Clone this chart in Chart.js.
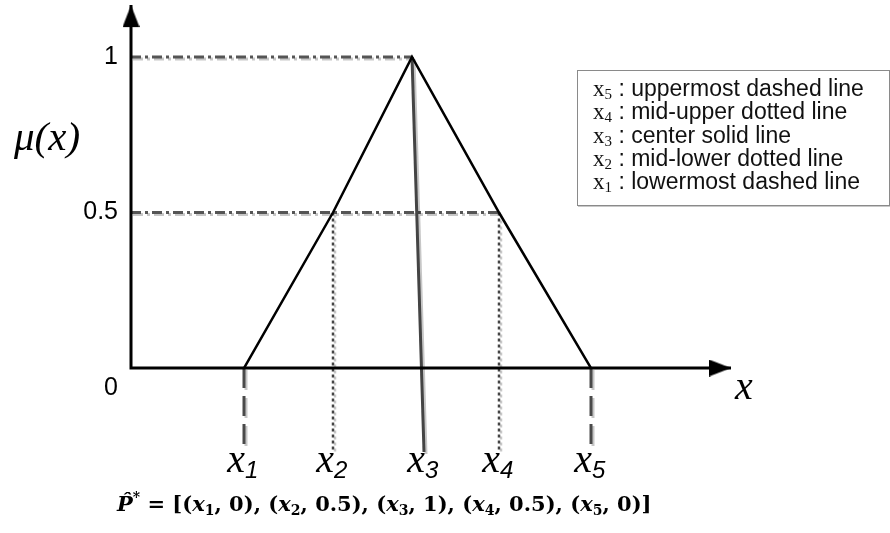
<!DOCTYPE html>
<html lang="en">
<head>
  <meta charset="UTF-8" />
  <title>Triangular membership function</title>
  <script src="https://cdn.jsdelivr.net/npm/chart.js"></script>
  <style>
    body { margin: 0; background: #fff; }
    #wrap { position: relative; width: 890px; height: 533px; }
    #legend {
      position: absolute; left: 577px; top: 70px; width: 296px;
      border: 1px solid #8a8a8a; box-shadow: 1px 1px 0 #c8c8c8;
      padding: 6px 0 12px 15px;
      font: 23px "Liberation Sans", Arial, sans-serif; line-height: 23.3px; color: #111;
    }
    #legend .v { font-family: "Liberation Serif", "Times New Roman", serif; font-size: 23px; }
    #legend sub { font-size: 15px; vertical-align: -3px; line-height: 0; }
    #formula {
      position: absolute; left: 117px; top: 491px; white-space: nowrap;
      font: bold 21px "DejaVu Serif", serif; color: #000;
    }
    #formula i { font-style: italic; }
    #formula sub { font-size: 14px; vertical-align: -4px; line-height: 0; }
    #formula sup { font-size: 14px; vertical-align: 9px; line-height: 0; }
  </style>
</head>
<body>
<div id="wrap">
  <canvas id="chart"></canvas>
  <div id="legend"></div>
  <div id="formula"></div>
</div>

<script>
// breakpoints of the triangular membership function: x1..x5 and mu(x)
const xPoints = [1.13, 2.02, 2.81, 3.68, 4.60];
const muValues = [0, 0.5, 1, 0.5, 0];
// the centre line leans a little: foot of the x3 line
const x3Foot = 2.93;
// how far the drop lines go below the x axis
const dropBottom = -0.27;
// axis ends (arrow tips)
const xAxisEnd = 6.0;
const yAxisEnd = 1.167;

const yTicks = [1, 0.5, 0];
const yTickLabels = ['1', '0.5', '0'];
const xNames = ['1', '2', '3', '4', '5'];

const legendKeys = ['5', '4', '3', '2', '1'];
const legendTexts = [
  'uppermost dashed line',
  'mid-upper dotted line',
  'center solid line',
  'mid-lower dotted line',
  'lowermost dashed line'
];

// legend box
document.getElementById('legend').innerHTML = legendKeys.map((k, i) =>
  `<div><span class="v">x<sub>${k}</sub></span> : ${legendTexts[i]}</div>`).join('');

// formula under the plot
const pairs = xNames.map((n, i) => `(<i>x</i><sub>${n}</sub>, ${muValues[i]})`).join(', ');
document.getElementById('formula').innerHTML =
  `<i>P&#770;</i><sup>*</sup> = [${pairs}]`;

// arrow head used as point style on the axis ends (tip sits at the centre)
function makeArrow() {
  const c = document.createElement('canvas');
  c.width = 17; c.height = 48;
  const g = c.getContext('2d');
  g.fillStyle = '#000';
  g.beginPath();
  g.moveTo(8.5, 24);
  g.lineTo(17, 46);
  g.lineTo(0, 46);
  g.closePath();
  g.fill();
  return c;
}
const arrow = makeArrow();

const pt = (x, y) => ({ x, y });
const [x1, x2, x3, x4, x5] = xPoints;

const guideGrey = '#555';
const datasets = [
  {
    label: 'axes',
    data: [pt(0, yAxisEnd), pt(0, 0), pt(xAxisEnd, 0)],
    borderColor: '#000', borderWidth: 3, borderJoinStyle: 'miter',
    pointStyle: arrow, pointRadius: [10, 0, 10], pointRotation: [0, 0, 90],
    order: 0
  },
  {
    label: 'membership',
    data: xPoints.map((x, i) => pt(x, muValues[i])),
    borderColor: '#000', borderWidth: 2.5, pointRadius: 0, order: 1
  },
  {
    label: 'level 1',
    data: [pt(0, 1), pt(x3, 1)],
    borderColor: guideGrey, borderWidth: 3, borderDash: [10, 4, 3, 4],
    pointRadius: 0, shadow: true, order: 3
  },
  {
    label: 'level 0.5',
    data: [pt(0, 0.5), pt(x4, 0.5)],
    borderColor: guideGrey, borderWidth: 3, borderDash: [10, 4, 3, 4],
    pointRadius: 0, shadow: true, order: 3
  },
  {
    label: 'x1',
    data: [pt(x1, 0), pt(x1, dropBottom)],
    borderColor: '#4a4a4a', borderWidth: 3, borderDash: [20, 8],
    pointRadius: 0, shadow: true, order: 2
  },
  {
    label: 'x2',
    data: [pt(x2, 0.5), pt(x2, dropBottom)],
    borderColor: '#444', borderWidth: 2.5, borderDash: [3, 3],
    pointRadius: 0, shadow: true, order: 2
  },
  {
    label: 'x3',
    data: [pt(x3, 1), pt(x3Foot, dropBottom)],
    borderColor: '#444', borderWidth: 3,
    pointRadius: 0, shadow: true, order: 2
  },
  {
    label: 'x4',
    data: [pt(x4, 0.5), pt(x4, dropBottom)],
    borderColor: '#444', borderWidth: 2.5, borderDash: [3, 3],
    pointRadius: 0, shadow: true, order: 2
  },
  {
    label: 'x5',
    data: [pt(x5, 0), pt(x5, dropBottom)],
    borderColor: '#4a4a4a', borderWidth: 3, borderDash: [20, 8],
    pointRadius: 0, shadow: true, order: 2
  }
];

// soft grey offset shadow on the guide lines
const shadowPlugin = {
  id: 'lineShadow',
  beforeDatasetDraw(chart, args) {
    if (!chart.data.datasets[args.index].shadow) return;
    const ctx = chart.ctx;
    ctx.save();
    ctx.shadowColor = 'rgba(0,0,0,0.22)';
    ctx.shadowOffsetX = 2;
    ctx.shadowOffsetY = 2;
  },
  afterDatasetDraw(chart, args) {
    if (chart.data.datasets[args.index].shadow) chart.ctx.restore();
  }
};

// tick labels, axis names and the x1..x5 labels
const labelPlugin = {
  id: 'axisText',
  afterDraw(chart) {
    const { ctx, scales: { x, y } } = chart;
    const x0 = x.getPixelForValue(0);
    ctx.save();
    ctx.fillStyle = '#000';

    ctx.font = '25px "Liberation Sans", Arial, sans-serif';
    ctx.textAlign = 'right';
    ctx.textBaseline = 'middle';
    yTicks.forEach((v, i) => {
      const py = y.getPixelForValue(v) + (v === 0 ? 20 : 0);
      ctx.fillText(yTickLabels[i], x0 - 13, py);
    });

    ctx.textBaseline = 'alphabetic';
    ctx.textAlign = 'left';
    ctx.font = 'italic 41px "Liberation Serif", "Times New Roman", serif';
    ctx.fillText('\u03bc(x)', 14, y.getPixelForValue(1) + 93);

    ctx.font = 'italic 40px "Liberation Serif", "Times New Roman", serif';
    ctx.fillText('x', x.getPixelForValue(xAxisEnd) + 4, y.getPixelForValue(0) + 31);

    // labels sit under the foot of each drop line
    const feet = [x1, x2, x3Foot, x4, x5];
    const base = y.getPixelForValue(dropBottom) + 20;
    feet.forEach((fx, i) => {
      const px = x.getPixelForValue(fx);
      ctx.font = 'italic 40px "Liberation Serif", "Times New Roman", serif';
      ctx.textAlign = 'right';
      ctx.fillText('x', px + 1, base);
      ctx.font = 'italic 24px "Liberation Sans", Arial, sans-serif';
      ctx.textAlign = 'left';
      ctx.fillText(xNames[i], px + 1, base + 6);
    });
    ctx.restore();
  }
};

new Chart(document.getElementById('chart'), {
  type: 'line',
  data: { datasets },
  options: {
    responsive: true,
    maintainAspectRatio: false,
    animation: false,
    layout: { padding: 0, autoPadding: false },
    plugins: { legend: { display: false }, tooltip: { enabled: false } },
    elements: { line: { tension: 0 } },
    datasets: { line: { clip: false } },
    scales: {
      x: { type: 'linear', min: -1.31, max: 7.59, display: false },
      y: { type: 'linear', min: -0.5305, max: 1.1833, display: false }
    }
  },
  plugins: [shadowPlugin, labelPlugin]
});
</script>
</body>
</html>
